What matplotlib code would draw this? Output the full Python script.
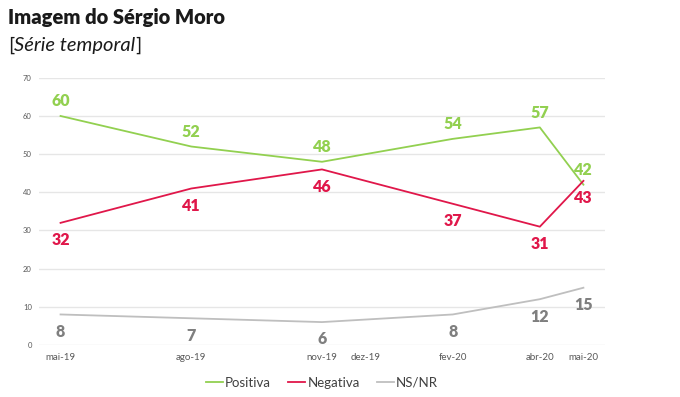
import matplotlib
matplotlib.use("Agg")
from matplotlib import pyplot as plt

plt.rcParams['font.family'] = ['Lato', 'DejaVu Sans']

# months since mai-19
tick_pos = [0, 3, 6, 7, 9, 11, 12]
tick_labels = ['mai-19', 'ago-19', 'nov-19', 'dez-19', 'fev-20', 'abr-20', 'mai-20']

months = [0, 3, 6, 9, 11, 12]
positiva = [60, 52, 48, 54, 57, 42]
negativa = [32, 41, 46, 37, 31, 43]
nsnr = [8, 7, 6, 8, 12, 15]

green = '#92D050'
red = '#E0174A'
grey = '#BFBFBF'
grey_lbl = '#7F7F7F'

fig = plt.figure(figsize=(6.8, 3.97), dpi=100)
ax = fig.add_axes([0.057, 0.131, 0.833, 0.673])

ax.plot(months, positiva, color=green, lw=1.3, label='Positiva')
ax.plot(months, negativa, color=red, lw=1.3, label='Negativa')
ax.plot(months, nsnr, color=grey, lw=1.3, label='NS/NR')

lbl = dict(ha='center', va='center', fontsize=11.5, fontweight='heavy',
           textcoords='offset points')
for x, v in zip(months, positiva):
    ax.annotate(str(v), (x, v), xytext=(0, 10.5), color=green, **lbl)
for x, v in zip(months, negativa):
    ax.annotate(str(v), (x, v), xytext=(0, -12.5), color=red, **lbl)
for x, v in zip(months, nsnr):
    ax.annotate(str(v), (x, v), xytext=(0, -12.5), color=grey_lbl, **lbl)

ax.set_xlim(-0.5, 12.5)
ax.set_ylim(0, 70)
ax.set_yticks(range(0, 71, 10))
ax.set_xticks(tick_pos)
ax.set_xticklabels(tick_labels)
ax.tick_params(axis='y', labelsize=5.5, labelcolor='#595959', length=0, pad=5)
ax.tick_params(axis='x', labelsize=7, labelcolor='#595959', length=0, pad=6)
ax.grid(axis='y', color='#E6E6E6', lw=1)
ax.set_axisbelow(True)
for s in ax.spines.values():
    s.set_visible(False)

ax.legend(loc='upper center', bbox_to_anchor=(0.5, -0.075), ncol=3, frameon=False,
          fontsize=9.5, handlelength=1.3, handletextpad=0.15, columnspacing=1.3,
          labelcolor='#404040')

fig.text(0.012, 0.955, 'Imagem do Sérgio Moro', fontsize=14.5, fontweight='heavy',
         color='#1a1a1a', va='center')
t1 = fig.text(0.012, 0.885, '[', fontsize=14.5, color='#1a1a1a', va='center')
t2 = ax.annotate('Série temporal', xy=(1, 0.5), xycoords=t1, va='center',
                 fontsize=14.5, style='italic', color='#1a1a1a', annotation_clip=False)
ax.annotate(']', xy=(1, 0.5), xycoords=t2, va='center', fontsize=14.5,
            color='#1a1a1a', annotation_clip=False)

fig.savefig('out.png', dpi=100)
